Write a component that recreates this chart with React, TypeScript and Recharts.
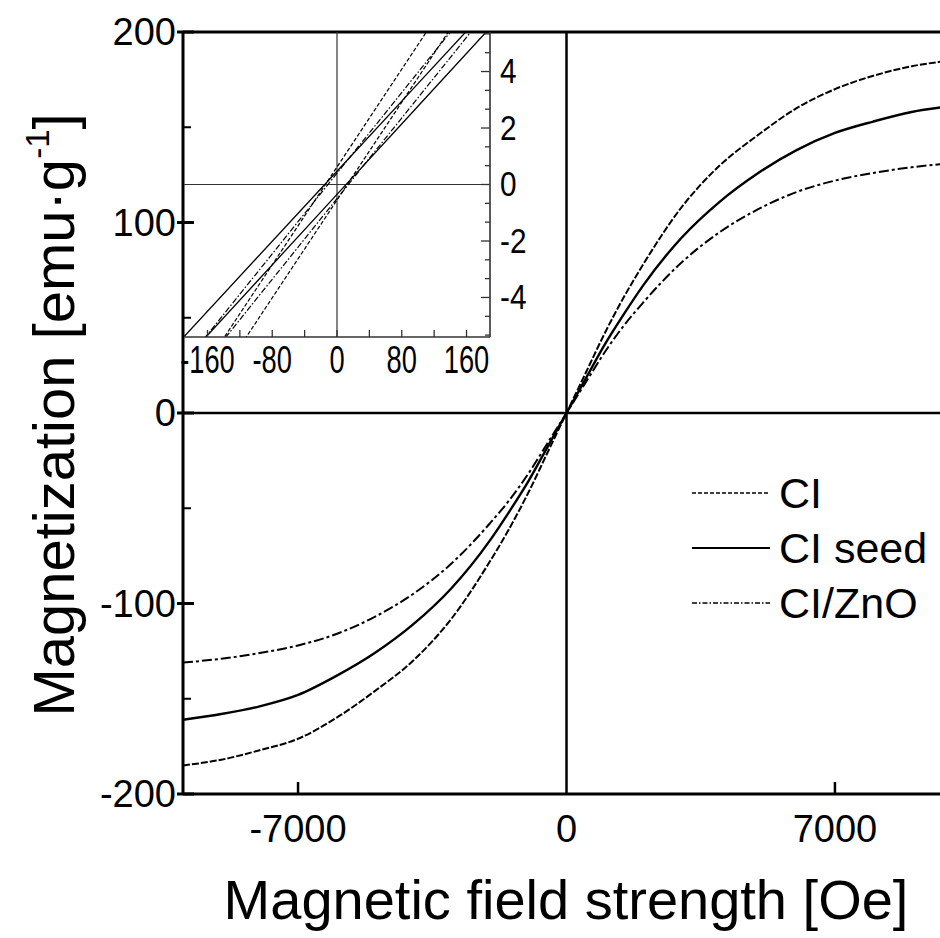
import { LineChart, Line, XAxis, YAxis, ReferenceLine } from 'recharts'

const FONT = '"Liberation Sans", Arial, sans-serif'

// main hysteresis curves, field in Oe, magnetization in emu/g
const FIELD = [-10000, -9000, -8000, -7000, -6000, -5000, -4000, -3000, -2000, -1500, -1000, -500, 0, 500, 1000, 1500, 2000, 3000, 4000, 5000, 6000, 7000, 8000, 9000, 10000]
const M_CI = [-185, -182, -177, -171, -160, -146, -130, -108, -78, -61, -42, -21, 0, 21, 42, 61, 78, 108, 130, 146, 160, 170, 177, 182, 185]
const M_SEED = [-161, -158, -154, -148, -138, -126, -111, -92, -67, -52, -36, -18, 0, 18, 36, 52, 67, 92, 111, 126, 138, 147, 153, 158, 161]
const M_ZNO = [-131, -129, -126, -122, -116, -107, -95, -79, -58, -46, -32, -16, 0, 16, 32, 46, 58, 79, 95, 107, 116, 122, 126, 129, 131]

// inset: low-field loop branches
const INSET_FIELD = [-200, -100, 0, 100, 200]
const CI_A = [-8.04, -3.71, 0.62, 4.95, 9.28]
const CI_B = [-9.21, -4.88, -0.55, 3.78, 8.11]
const SEED_A = [-5.73, -2.63, 0.47, 3.57, 6.67]
const SEED_B = [-6.59, -3.47, -0.35, 2.77, 5.89]
const ZNO_A = [-6.74, -3.17, 0.4, 3.97, 7.54]
const ZNO_B = [-7.64, -4.07, -0.5, 3.07, 6.64]

const MAIN_X_TICKS = [-7000, 0, 7000]
const MAIN_Y_TICKS = [-200, -150, -100, -50, 0, 50, 100, 150, 200]
const INSET_X_TICKS = [-160, -120, -80, -40, 0, 40, 80, 120, 160]
const INSET_Y_TICKS = [-5.333, -4.667, -4, -3.333, -2.667, -2, -1.333, -0.667, 0, 0.667, 1.333, 2, 2.667, 3.333, 4, 4.667, 5.333]

const LEGEND = [
  { name: 'CI', dash: '4 2', width: 1.6 },
  { name: 'CI seed', dash: undefined, width: 2 },
  { name: 'CI/ZnO', dash: '5 2 1.5 2', width: 1.6 },
]

const mainData = FIELD.map((h, i) => ({ h, ci: M_CI[i], seed: M_SEED[i], zno: M_ZNO[i] }))
const insetData = INSET_FIELD.map((h, i) => ({
  h, ciA: CI_A[i], ciB: CI_B[i], seedA: SEED_A[i], seedB: SEED_B[i], znoA: ZNO_A[i], znoB: ZNO_B[i],
}))

function MainYTick({ x, y, payload }: any) {
  const v = payload.value
  const major = v % 100 === 0
  return (
    <g>
      <line x1={major ? x - 6 : x} x2={x + (major ? 11 : 8)} y1={y} y2={y} stroke="#000" strokeWidth={major ? 3 : 2} />
      {major && (
        <text x={x - 7} y={y} textAnchor="end" dominantBaseline="central" fontSize={38} fontFamily={FONT} fill="#000">{v}</text>
      )}
    </g>
  )
}

function MainXTick({ x, y, payload }: any) {
  const v = payload.value
  return (
    <g>
      {v !== 0 && <line x1={x} x2={x} y1={y} y2={y - 12} stroke="#000" strokeWidth={2.5} />}
      <text x={x} y={y + 35} textAnchor="middle" dominantBaseline="central" fontSize={38} fontFamily={FONT} fill="#000">{v}</text>
    </g>
  )
}

function InsetXTick({ x, y, payload }: any) {
  const v = payload.value
  return (
    <g>
      <line x1={x} x2={x} y1={y} y2={y - 7} stroke="#333" strokeWidth={1.3} />
      {v % 80 === 0 && (
        <text transform={`translate(${x},${y + 23}) scale(0.7,1)`} textAnchor="middle" dominantBaseline="central" fontSize={39} fontFamily={FONT} fill="#000">{v}</text>
      )}
    </g>
  )
}

function InsetYTick({ x, y, payload }: any) {
  const v = payload.value
  const r = Math.round(v)
  const major = Math.abs(v - r) < 0.01 && r % 2 === 0
  return (
    <g>
      <line x1={x - (major ? 9 : 5)} x2={x} y1={y} y2={y} stroke="#333" strokeWidth={1.3} />
      {major && (
        <text transform={`translate(${x + 10},${y}) scale(0.85,1)`} textAnchor="start" dominantBaseline="central" fontSize={35} fontFamily={FONT} fill="#000">{r}</text>
      )}
    </g>
  )
}

const yTitle = () => (
  <text transform="translate(74,415) rotate(-90)" textAnchor="middle" fontSize={58} fontFamily={FONT} fill="#000">
    Magnetization [emu·g<tspan dy={-25} fontSize={33}>-1</tspan><tspan dy={25}>]</tspan>
  </text>
)

const xTitle = () => (
  <text x={566} y={919} textAnchor="middle" fontSize={56} fontFamily={FONT} fill="#000">
    Magnetic field strength [Oe]
  </text>
)

export default function App() {
  return (
    <div style={{ position: 'absolute', left: 0, top: 0, width: 940, height: 938, overflow: 'hidden', background: '#fff' }}>
      <div style={{ position: 'absolute', left: 0, top: 0 }}>
        <LineChart width={960} height={938} data={mainData} margin={{ top: 32, right: 10, left: 0, bottom: 0 }}>
          <XAxis
            dataKey="h" type="number" domain={[-10000, 10000]} ticks={MAIN_X_TICKS} height={144} interval={0}
            tickSize={0} tickMargin={0} tickLine={false} tick={<MainXTick />}
            axisLine={{ stroke: '#000', strokeWidth: 3 }} label={xTitle}
          />
          <YAxis
            type="number" domain={[-200, 200]} ticks={MAIN_Y_TICKS} width={183} interval={0}
            tickSize={0} tickMargin={0} tickLine={false} tick={<MainYTick />}
            axisLine={{ stroke: '#000', strokeWidth: 3 }} label={yTitle}
          />
          <ReferenceLine y={200} stroke="#000" strokeWidth={3} />
          <ReferenceLine y={0} stroke="#000" strokeWidth={2.5} />
          <ReferenceLine x={0} stroke="#000" strokeWidth={2.5} />
          <Line type="monotone" dataKey="ci" stroke="#000" strokeWidth={2} strokeDasharray="7 2" dot={false} isAnimationActive={false} />
          <Line type="monotone" dataKey="seed" stroke="#000" strokeWidth={2.4} dot={false} isAnimationActive={false} />
          <Line type="monotone" dataKey="zno" stroke="#000" strokeWidth={2} strokeDasharray="10 3 3 3" dot={false} isAnimationActive={false} />
        </LineChart>
      </div>

      <div style={{ position: 'absolute', left: 0, top: 0 }}>
        <LineChart width={540} height={400} data={insetData} margin={{ top: 32, right: 0, left: 184, bottom: 0 }}>
          <XAxis
            dataKey="h" type="number" domain={[-189, 189]} ticks={INSET_X_TICKS} height={63} allowDataOverflow interval={0}
            tickSize={0} tickMargin={0} tickLine={false} tick={<InsetXTick />}
            axisLine={{ stroke: '#333', strokeWidth: 1.6 }}
          />
          <YAxis
            orientation="right" type="number" domain={[-5.4, 5.4]} ticks={INSET_Y_TICKS} width={50} allowDataOverflow interval={0}
            tickSize={0} tickMargin={0} tickLine={false} tick={<InsetYTick />}
            axisLine={{ stroke: '#333', strokeWidth: 1.6 }}
          />
          <ReferenceLine x={0} stroke="#333" strokeWidth={1.2} />
          <ReferenceLine y={0} stroke="#333" strokeWidth={1.2} />
          <Line type="linear" dataKey="ciA" stroke="#000" strokeWidth={1.2} strokeDasharray="4 2" dot={false} isAnimationActive={false} />
          <Line type="linear" dataKey="ciB" stroke="#000" strokeWidth={1.2} strokeDasharray="4 2" dot={false} isAnimationActive={false} />
          <Line type="linear" dataKey="seedA" stroke="#000" strokeWidth={1.3} dot={false} isAnimationActive={false} />
          <Line type="linear" dataKey="seedB" stroke="#000" strokeWidth={1.3} dot={false} isAnimationActive={false} />
          <Line type="linear" dataKey="znoA" stroke="#000" strokeWidth={1.2} strokeDasharray="6 2 1.5 2" dot={false} isAnimationActive={false} />
          <Line type="linear" dataKey="znoB" stroke="#000" strokeWidth={1.2} strokeDasharray="6 2 1.5 2" dot={false} isAnimationActive={false} />
        </LineChart>
      </div>

      <svg width={260} height={170} style={{ position: 'absolute', left: 680, top: 460 }}>
        {LEGEND.map((item, i) => (
          <g key={item.name}>
            <line x1={12} x2={90} y1={33 + i * 55} y2={33 + i * 55} stroke="#000" strokeWidth={item.width} strokeDasharray={item.dash} />
            <text x={99} y={33 + i * 55} dominantBaseline="central" fontSize={43} fontFamily={FONT} fill="#000">{item.name}</text>
          </g>
        ))}
      </svg>
    </div>
  )
}
